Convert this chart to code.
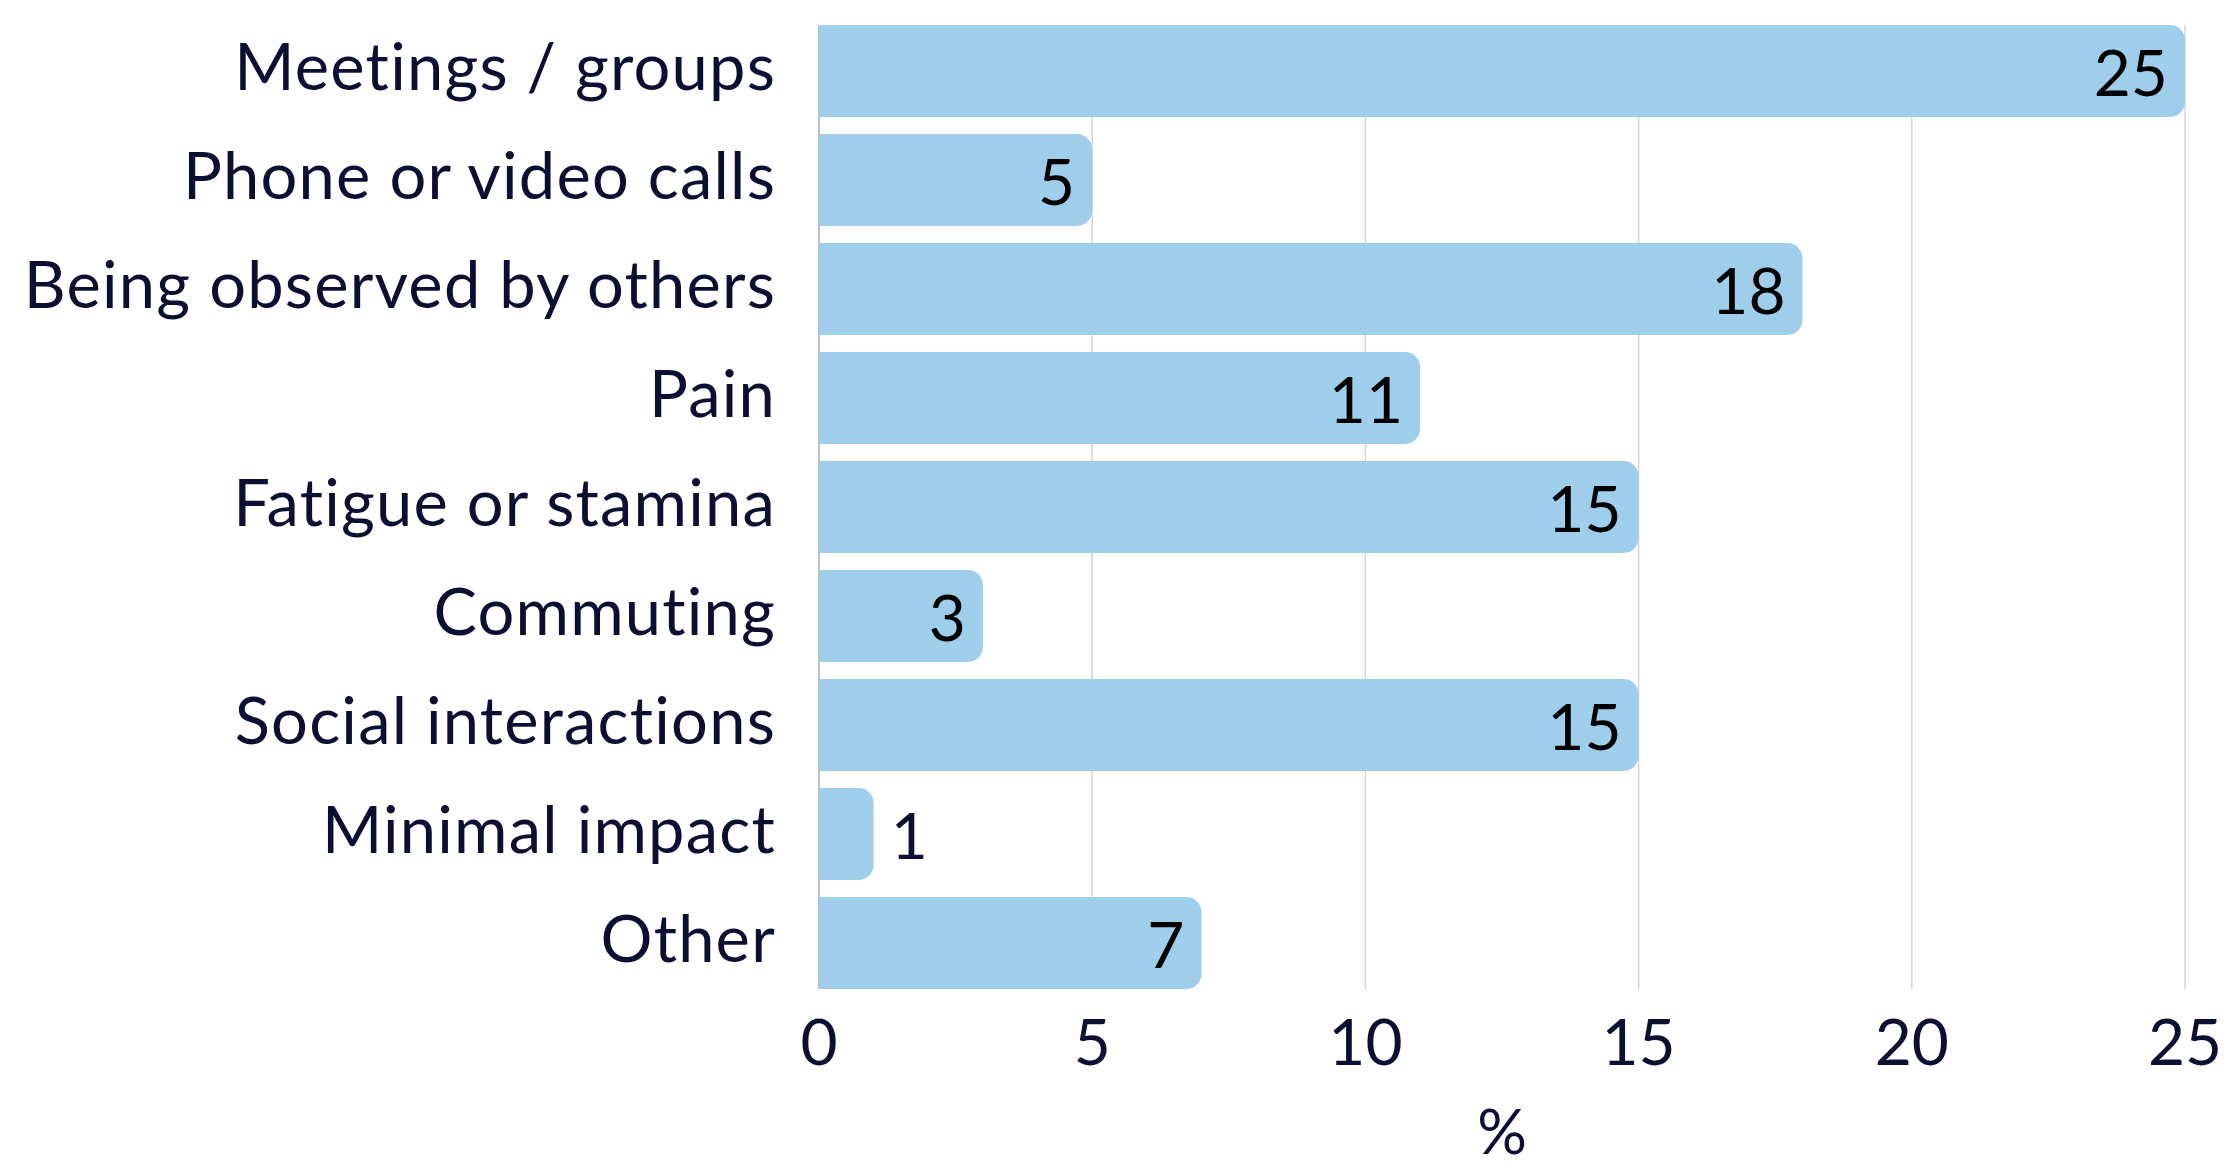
<!DOCTYPE html>
<html>
<head>
<meta charset="utf-8">
<script src="https://cdn.jsdelivr.net/npm/d3@7"></script>
<style>
  html, body { margin: 0; padding: 0; background: #fff; }
  text { font-family: Lato, "Noto Sans", sans-serif; font-variant-ligatures: none; }
</style>
</head>
<body>
<div id="chart"></div>
<script>
const categories = [
  "Meetings / groups",
  "Phone or video calls",
  "Being observed by others",
  "Pain",
  "Fatigue or stamina",
  "Commuting",
  "Social interactions",
  "Minimal impact",
  "Other",
];
const values = [25, 5, 18, 11, 15, 3, 15, 1, 7];
const xTicks = [0, 5, 10, 15, 20, 25];
const xTitle = "%";

const width = 2225,
  height = 1170;
const margin = { top: 16.5, right: 40, bottom: 172.5, left: 819 };

const navy = "#0b1033";
const barColor = "#9ecee9";

const svg = d3
  .select("#chart")
  .append("svg")
  .attr("width", width)
  .attr("height", height);

const x = d3
  .scaleLinear()
  .domain([0, 25])
  .range([margin.left, 2185]);

const y = d3
  .scaleBand()
  .domain(categories)
  .range([margin.top, height - margin.bottom])
  .paddingInner(0.156)
  .paddingOuter(0.078);

const gridTop = y(categories[0]);
const gridBottom = y(categories[categories.length - 1]) + y.bandwidth();

// gridlines
svg
  .selectAll(".grid")
  .data(xTicks)
  .enter()
  .append("line")
  .attr("class", "grid")
  .attr("x1", (d) => x(d))
  .attr("x2", (d) => x(d))
  .attr("y1", gridTop)
  .attr("y2", gridBottom)
  .attr("stroke", (d) => (d === 0 ? "#a9a9b8" : "#d4d4dc"))
  .attr("stroke-width", 1.5);

// bars, right corners rounded
const r = 15;
const barPath = (d, i) => {
  const x0 = x(0),
    x1 = x(d),
    y0 = y(categories[i]),
    h = y.bandwidth();
  const rr = Math.min(r, (x1 - x0) / 2);
  return `M${x0},${y0}H${x1 - rr}A${rr},${rr} 0 0 1 ${x1},${y0 + rr}V${
    y0 + h - rr
  }A${rr},${rr} 0 0 1 ${x1 - rr},${y0 + h}H${x0}Z`;
};

svg
  .selectAll(".bar")
  .data(values)
  .enter()
  .append("path")
  .attr("class", "bar")
  .attr("d", barPath)
  .attr("fill", barColor);

// value labels
svg
  .selectAll(".value")
  .data(values)
  .enter()
  .append("text")
  .attr("class", "value")
  .text((d) => d)
  .attr("x", (d) => (d >= 3 ? x(d) - 17 : x(d) + 17))
  .attr("y", (d, i) => y(categories[i]) + y.bandwidth() / 2 + 3)
  .attr("dy", "0.35em")
  .style("text-anchor", (d) => (d >= 3 ? "end" : "start"))
  .style("font-size", "64px")
  .attr("fill", (d) => (d >= 3 ? "#000" : navy));

// category labels
svg
  .selectAll(".catLabel")
  .data(categories)
  .enter()
  .append("text")
  .attr("class", "catLabel")
  .text((d) => d)
  .attr("x", 776)
  .attr("y", (d) => y(d) + y.bandwidth() / 2 - 4)
  .attr("dy", "0.35em")
  .style("text-anchor", "end")
  .style("font-size", "65px")
  .style("letter-spacing", "1.2px")
  .attr("fill", navy);

// x tick labels
svg
  .selectAll(".tickLabel")
  .data(xTicks)
  .enter()
  .append("text")
  .attr("class", "tickLabel")
  .text((d) => d)
  .attr("x", (d) => x(d))
  .attr("y", 1043)
  .attr("dy", "0.35em")
  .style("text-anchor", "middle")
  .style("font-size", "64px")
  .attr("fill", navy);

svg
  .append("text")
  .text(xTitle)
  .attr("x", (x(0) + x(25)) / 2)
  .attr("y", 1132)
  .attr("dy", "0.35em")
  .style("text-anchor", "middle")
  .style("font-size", "62px")
  .attr("fill", navy);
</script>
</body>
</html>
